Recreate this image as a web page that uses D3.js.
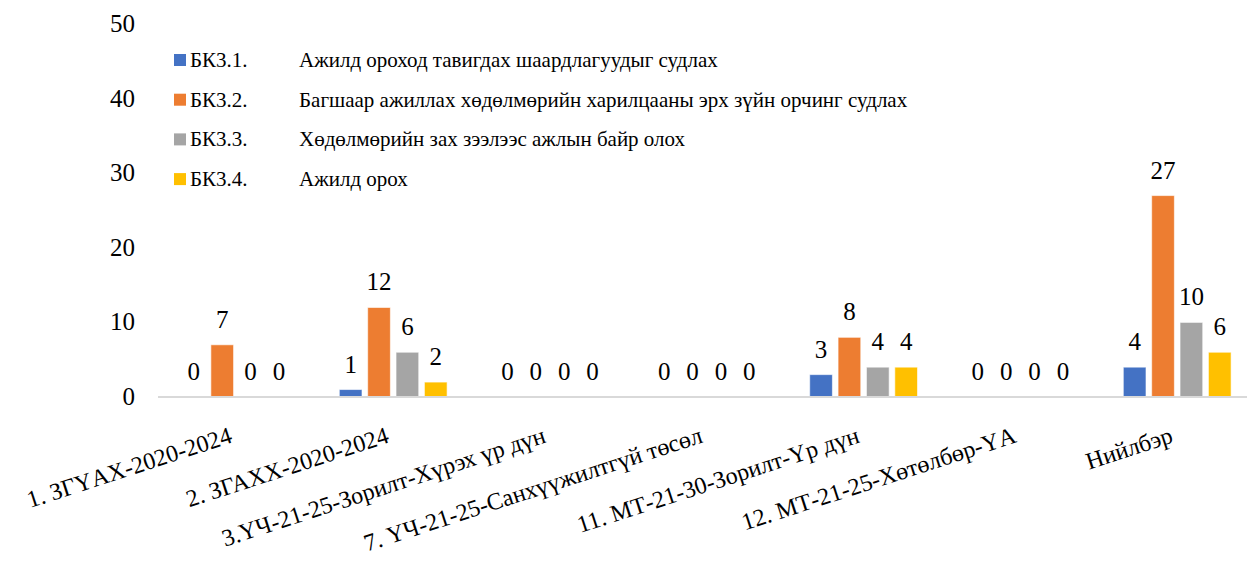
<!DOCTYPE html>
<html>
<head>
<meta charset="utf-8">
<script src="https://cdn.jsdelivr.net/npm/d3@7"></script>
<style>
  @font-face { font-family: "RefSerif"; src: local("Liberation Serif"), local("LiberationSerif"), local("Tinos"); }
</style>
</head>
<body style="margin:0">
<div id="chart"></div>
<script>
// categories along x
const categories = [
    "1. ЗГҮАХ-2020-2024",
    "2. ЗГАХХ-2020-2024",
    "3.ҮЧ-21-25-Зорилт-Хүрэх үр дүн",
    "7. ҮЧ-21-25-Санхүүжилтгүй төсөл",
    "11. МТ-21-30-Зорилт-Үр дүн",
    "12. МТ-21-25-Хөтөлбөр-ҮА",
    "Нийлбэр"
];
const seriesCodes = ["БК3.1.", "БК3.2.", "БК3.3.", "БК3.4."];
const seriesNames = [
    "Ажилд ороход тавигдах шаардлагуудыг судлах",
    "Багшаар ажиллах хөдөлмөрийн харилцааны эрх зүйн орчинг судлах",
    "Хөдөлмөрийн зах зээлээс ажлын байр олох",
    "Ажилд орох"
];
const bk31 = [0, 1, 0, 0, 3, 0, 4];
const bk32 = [7, 12, 0, 0, 8, 0, 27];
const bk33 = [0, 6, 0, 0, 4, 0, 10];
const bk34 = [0, 2, 0, 0, 4, 0, 6];
const yTicks = [0, 10, 20, 30, 40, 50];
const colors = ["#4472C4", "#ED7D31", "#A5A5A5", "#FFC000"];

const seriesValues = [bk31, bk32, bk33, bk34];

const width = 1247;
const height = 568;
const serif = "'Liberation Serif', RefSerif, Tinos, 'Times New Roman'";

const svg = d3.select("#chart")
    .append("svg")
    .attr("width", width)
    .attr("height", height);

const y = d3.scaleLinear()
    .domain([0, 50])
    .range([397, 24]);

const x0 = d3.scaleBand()
    .domain(categories)
    .range([158, 1255.6])
    .padding(0);

const x1 = d3.scaleBand()
    .domain(seriesCodes)
    .range([-53.9, 53.9])
    .paddingInner(0.2)
    .paddingOuter(0);

// y tick labels, no axis line and no gridlines
svg.selectAll(".ytick")
    .data(yTicks)
    .enter()
    .append("text")
    .attr("class", "ytick")
    .attr("x", 135)
    .attr("y", d => y(d) + 8)
    .attr("text-anchor", "end")
    .attr("font-family", serif)
    .attr("font-size", 25)
    .text(d => d);

// bars and value labels
const cells = [];
categories.forEach((c, i) => {
    seriesCodes.forEach((s, j) => {
        cells.push({ c: c, s: s, j: j, v: seriesValues[j][i] });
    });
});
const bx = d => x0(d.c) + x0.bandwidth() / 2 + x1(d.s);

svg.selectAll(".bar")
    .data(cells)
    .enter()
    .append("rect")
    .attr("class", "bar")
    .attr("x", bx)
    .attr("y", d => y(d.v))
    .attr("width", x1.bandwidth())
    .attr("height", d => y(0) - y(d.v))
    .attr("fill", d => colors[d.j])
    .attr("stroke", "#fff")
    .attr("stroke-opacity", 0.6)
    .attr("stroke-width", 1);

svg.selectAll(".val")
    .data(cells)
    .enter()
    .append("text")
    .attr("class", "val")
    .attr("x", d => bx(d) + x1.bandwidth() / 2)
    .attr("y", d => y(d.v) - 17)
    .attr("text-anchor", "middle")
    .attr("font-family", serif)
    .attr("font-size", 25)
    .text(d => d.v);

// x axis baseline
svg.append("line")
    .attr("x1", 158)
    .attr("x2", width)
    .attr("y1", y(0))
    .attr("y2", y(0))
    .attr("stroke", "#D9D9D9")
    .attr("stroke-width", 2);

// category labels, rotated
svg.selectAll(".cat")
    .data(categories)
    .enter()
    .append("text")
    .attr("class", "cat")
    .attr("transform", d => "translate(" + (x0(d) + x0.bandwidth() / 2 - 3) + ",442) rotate(-18)")
    .attr("text-anchor", "end")
    .attr("font-family", serif)
    .attr("font-size", 24)
    .text(d => d);

// legend
svg.selectAll(".lkey")
    .data(seriesCodes)
    .enter()
    .append("rect")
    .attr("class", "lkey")
    .attr("x", 174)
    .attr("y", (d, i) => 54 + i * 39.7)
    .attr("width", 12)
    .attr("height", 12)
    .attr("fill", (d, i) => colors[i]);

svg.selectAll(".lcode")
    .data(seriesCodes)
    .enter()
    .append("text")
    .attr("class", "lcode")
    .attr("x", 190)
    .attr("y", (d, i) => 67 + i * 39.7)
    .attr("font-family", serif)
    .attr("font-size", 21)
    .text(d => d);

svg.selectAll(".lname")
    .data(seriesNames)
    .enter()
    .append("text")
    .attr("class", "lname")
    .attr("x", 299)
    .attr("y", (d, i) => 67 + i * 39.7)
    .attr("font-family", serif)
    .attr("font-size", 21)
    .text(d => d);
</script>
</body>
</html>
